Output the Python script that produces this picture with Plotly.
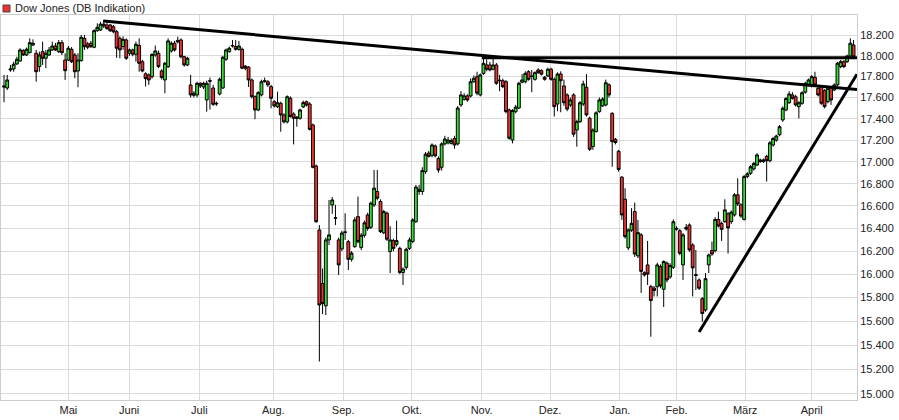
import math
import plotly.graph_objects as go

# ---------------- data ----------------
open_ = [17710,17690,17863,17872,17921,17950,18050,18008,18030,18105,18024,17895,18040,17976,18008,18057,18095,18040,18128,17959,
17959,18063,18008,17853,17953,18170,18115,18122,18083,18245,18252,18310,18301,18301,18284,18235,18170,18090,18154,18024,
18057,18015,18100,17943,17826,17815,17798,18008,18024,17853,17767,17895,18047,18122,18150,18154,17991,17911,17719,17620,
17624,17735,17700,17576,17760,17690,17545,17633,17690,17966,18040,18095,18090,18063,18063,17900,17890,17767,17608,17482,
17624,17760,17750,17703,17560,17513,17545,17435,17370,17592,17444,17414,17404,17510,17560,17538,17341,16962,16387,15920,
15730,16299,16609,16490,16299,16220,16370,16284,16130,16240,16505,16233,16340,16520,16410,16609,16730,16640,16362,16535,
16197,16293,16260,16225,16015,16060,16225,16285,16460,16750,16730,16910,17080,17060,17145,17030,16950,17165,17175,17170,
17215,17165,17529,17582,17615,17614,17750,17798,17624,17830,17911,17911,17870,17911,17765,17760,17750,17482,17201,17466,
17500,17745,17750,17846,17805,17773,17863,17856,17793,17805,17870,17773,17538,17824,17710,17624,17529,17624,17294,17372,
17538,17697,17404,17140,17280,17466,17520,17529,17720,17450,17208,17097,16860,16660,16230,16385,16550,16160,16343,16013,
16081,15894,15882,15893,16066,15871,16096,15977,16060,16400,16380,16081,16410,16431,16255,15997,15951,15790,15695,16081,
16206,16205,16480,16445,16460,16530,16460,16520,16700,16610,16480,16865,16895,16935,16971,17017,17002,17050,17010,17155,
17200,17250,17388,17482,17550,17624,17607,17513,17545,17650,17720,17710,17792,17687,17703,17665,17560,17687,17671,
17720,17895,17943,17943,17998,18105]
high = [17815,17815,17911,17943,17991,18073,18063,18080,18170,18160,18057,18040,18138,18057,18085,18138,18125,18154,18154,18024,
18095,18085,18027,18024,18203,18203,18135,18145,18259,18318,18333,18351,18320,18311,18301,18252,18190,18190,18170,18070,
18070,18138,18170,17960,17840,17830,18024,18100,18050,17870,17940,18170,18140,18145,18186,18170,18000,17990,17815,17660,
17750,17745,17750,17760,17790,17720,17560,17790,18000,18070,18090,18154,18154,18145,18080,17910,17900,17780,17620,17660,
17770,17790,17765,17720,17575,17655,17560,17450,17620,17610,17460,17425,17495,17570,17570,17555,17355,16975,16430,16050,
16320,16654,16680,16610,16320,16380,16535,16300,16200,16500,16684,16360,16470,16540,16640,16925,16925,16660,16565,16550,
16420,16310,16470,16240,16060,16230,16320,16490,16790,16790,16950,17090,17100,17170,17160,17050,17180,17240,17230,17215,
17240,17520,17660,17640,17630,17782,17810,17846,17830,17985,17965,17940,17991,17930,17815,17780,17765,17495,17490,17530,
17750,17823,17850,17860,17863,17850,17880,17870,17805,17885,17885,17790,17840,17850,17770,17640,17600,17640,17390,17565,
17760,17823,17420,17310,17470,17600,17600,17770,17735,17460,17220,17110,16870,16760,16400,16580,16630,16476,16360,16025,
16290,15910,15900,16100,16085,16120,16110,16095,16480,16420,16395,16360,16440,16445,16270,16211,15965,15805,16010,16180,
16285,16500,16550,16460,16660,16545,16560,16715,16850,16625,16880,16905,16970,17000,17080,17030,17030,17065,17190,17230,
17250,17340,17515,17605,17660,17650,17625,17565,17660,17750,17780,17815,17846,17700,17715,17680,17700,17700,17735,
17940,17960,17960,18010,18170,18154]
low = [17555,17671,17845,17846,17911,17943,17998,17998,18024,18095,17750,17846,17911,17880,17998,18047,18047,18027,18008,17767,
17950,17930,17783,17697,17943,18057,18063,18076,18073,18235,18242,18271,18252,18232,18220,17980,17976,18060,17960,18000,
17995,17943,17846,17840,17705,17719,17780,17990,17880,17770,17640,17880,18030,18040,18120,17975,17895,17900,17600,17600,
17600,17690,17680,17466,17485,17520,17520,17620,17680,17950,18030,18080,18050,18050,17870,17860,17700,17590,17395,17470,
17610,17740,17700,17498,17505,17500,17278,17355,17355,17410,17160,17325,17390,17500,17515,17290,16940,16450,15265,15660,
15653,16255,16530,16430,15994,16200,16299,16037,16110,16230,16270,16210,16320,16380,16395,16590,16650,16360,16350,16290,
16010,16200,16240,16000,15908,16040,16210,16270,16450,16700,16700,16890,17040,17040,17040,16900,16920,17150,17160,17160,
17120,17150,17510,17570,17560,17600,17740,17620,17610,17815,17850,17850,17860,17720,17660,17690,17450,17205,17170,17450,
17490,17735,17735,17760,17650,17760,17825,17810,17760,17795,17760,17420,17470,17460,17520,17470,17510,17230,17140,17360,
17520,17420,17100,17109,17270,17455,17510,17515,17600,16955,17160,16910,16476,16310,16210,16370,16150,16140,15840,15980,
15908,15470,15810,15810,15880,15720,15930,15960,16045,16380,16165,15951,16380,16195,15810,15865,15865,15595,15680,16010,
16160,16190,16410,16290,16450,16180,16440,16505,16600,16495,16470,16850,16880,16920,16960,16990,16990,16820,16995,17140,
17185,17235,17370,17470,17540,17580,17515,17402,17530,17635,17705,17695,17705,17610,17530,17497,17545,17530,17660,
17705,17880,17880,17930,17990,17975]
close = [17700,17767,17872,17918,17966,18057,18008,18063,18128,18122,17846,18008,17976,18024,18057,18095,18057,18128,18030,17856,
18073,17943,17846,17959,18180,18089,18083,18089,18245,18278,18310,18291,18268,18245,18235,18073,18057,18160,17976,18057,
18015,18112,17927,17853,17780,17767,18013,18047,17895,17790,17927,18145,18122,18057,18135,17990,17911,17976,17624,17640,
17735,17710,17735,17735,17755,17535,17540,17773,17986,18057,18073,18100,18063,18095,17880,17880,17767,17608,17482,17646,
17750,17755,17719,17592,17520,17550,17435,17370,17607,17420,17404,17404,17482,17552,17529,17300,16950,16460,15737,15750,
16299,16343,16654,16495,16081,16360,16365,16130,16184,16476,16283,16340,16450,16400,16625,16760,16670,16372,16550,16305,
16299,16225,16293,16015,16045,16217,16299,16476,16770,16730,16920,17070,17050,17155,17055,16925,17165,17210,17200,17195,
17155,17500,17624,17615,17576,17750,17783,17641,17815,17927,17870,17863,17911,17735,17760,17703,17466,17217,17476,17508,
17735,17767,17830,17773,17800,17837,17837,17822,17773,17870,17773,17513,17824,17760,17550,17490,17576,17255,17372,17550,
17729,17435,17115,17294,17455,17576,17585,17740,17624,17186,17178,16930,16520,16328,16387,16445,16175,16363,16025,15994,
16002,15775,15860,16081,15900,16110,15951,16075,16460,16395,16182,16343,16395,16211,16055,15990,15880,15665,15962,16167,
16175,16480,16422,16392,16565,16405,16545,16700,16618,16510,16865,16890,16955,16985,17063,17002,17017,17010,17175,17215,
17238,17325,17498,17590,17633,17592,17529,17550,17645,17735,17767,17798,17719,17624,17545,17513,17687,17576,17719,
17928,17943,17895,17998,18122,17990]

assert len(open_) == len(high) == len(low) == len(close)
day = list(range(len(close)))  # trading-day index

month_labels = ["Mai", "Juni", "Juli", "Aug.", "Sep.", "Okt.", "Nov.", "Dez.", "Jan.", "Feb.", "März", "April"]
month_pos = [20, 38.9, 60.7, 83.7, 105.4, 126.7, 148.4, 169.7, 191.4, 209, 230.3, 251]

y_ticks = [15000, 15200, 15400, 15600, 15800, 16000, 16200, 16400, 16600, 16800,
           17000, 17200, 17400, 17600, 17800, 18000, 18200]
y_ticktext = [f"{v:,}".replace(",", ".") for v in y_ticks]

# trend lines (day index, value)
trend_down_x = [30.86, 265.07]
trend_down_y = [18341, 17675]
resist_x = [148.5, 265.07]
resist_y = [17980, 17980]
support_x = [216.0, 265.07]
support_y = [15510, 17822]

# ---------------- figure ----------------
fig = go.Figure()
fig.add_trace(go.Candlestick(
    x=day, open=open_, high=high, low=low, close=close,
    increasing=dict(fillcolor="#33dd33", line=dict(color="#000000", width=1)),
    decreasing=dict(fillcolor="#ee3333", line=dict(color="#000000", width=1)),
    whiskerwidth=0, showlegend=False, name="Dow Jones"))

for xs, ys in [(trend_down_x, trend_down_y), (resist_x, resist_y), (support_x, support_y)]:
    fig.add_trace(go.Scatter(x=xs, y=ys, mode="lines",
                             line=dict(color="#000000", width=3),
                             showlegend=False, hoverinfo="skip"))

font = dict(family="Liberation Sans, Arial, sans-serif", size=11, color="#222222")
fig.update_layout(
    width=899, height=420,
    margin=dict(l=1, r=42, t=15, b=20, autoexpand=False),
    paper_bgcolor="white", plot_bgcolor="white",
    font=font,
    boxgap=0.12, boxgroupgap=0,
    xaxis=dict(range=[-0.932, 265.07], tickvals=month_pos, ticktext=month_labels,
               showgrid=True, gridcolor="#dadada", gridwidth=1,
               showline=True, linecolor="#cccccc", mirror=True,
               ticks="", zeroline=False, rangeslider=dict(visible=False),
               automargin=False, tickfont=font),
    yaxis=dict(type="log", range=[math.log10(14951.5), math.log10(18400)],
               side="right", tickvals=y_ticks, ticktext=y_ticktext,
               showgrid=True, gridcolor="#dadada", gridwidth=1,
               showline=True, linecolor="#cccccc", mirror=True,
               ticks="", zeroline=False, automargin=False, tickfont=font),
    shapes=[dict(type="rect", xref="paper", yref="paper",
                 xsizemode="pixel", ysizemode="pixel", xanchor=0, yanchor=1,
                 x0=2, x1=9, y0=3, y1=10,
                 fillcolor="#ee3333", line=dict(color="#444444", width=1))],
    annotations=[dict(text="Dow Jones (DB Indikation)", xref="paper", yref="paper",
                      x=0, y=1, xanchor="left", yanchor="middle",
                      xshift=12, yshift=7, showarrow=False, font=font)],
)

fig.write_html("out.html", config={"displayModeBar": False},
               post_script="document.body.style.margin='0';document.body.style.padding='0';")
